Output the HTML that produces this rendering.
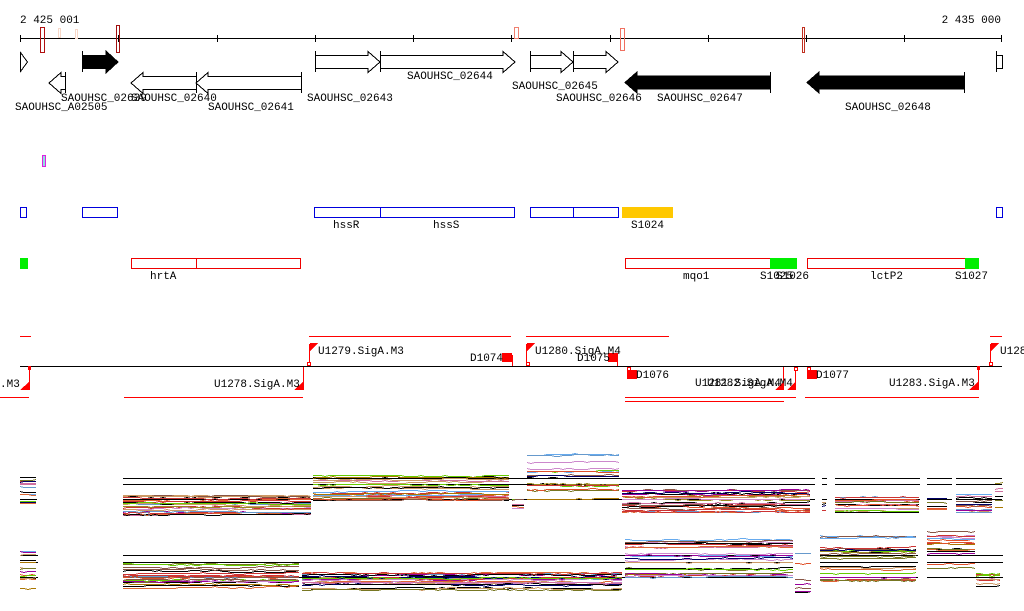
<!DOCTYPE html>
<html><head><meta charset="utf-8"><style>
html,body{margin:0;padding:0;background:#fff;width:1024px;height:611px;overflow:hidden}
svg{display:block}
text{font-family:"Liberation Mono","DejaVu Sans Mono",monospace;font-size:11px;fill:#000}
</style></head><body>
<svg id="s" width="1024" height="611" viewBox="0 0 1024 611" shape-rendering="crispEdges">
<text x="20" y="23">2 425 001</text>
<text x="1001" y="23" text-anchor="end">2 435 000</text>
<line x1="20" y1="38.5" x2="1002" y2="38.5" stroke="#000"/>
<g stroke="#000">
<line x1="20.5" y1="35" x2="20.5" y2="42"/><line x1="118.5" y1="35" x2="118.5" y2="42"/><line x1="217.5" y1="35" x2="217.5" y2="42"/><line x1="315.5" y1="35" x2="315.5" y2="42"/><line x1="413.5" y1="35" x2="413.5" y2="42"/><line x1="511.5" y1="35" x2="511.5" y2="42"/><line x1="610.5" y1="35" x2="610.5" y2="42"/><line x1="708.5" y1="35" x2="708.5" y2="42"/><line x1="806.5" y1="35" x2="806.5" y2="42"/><line x1="904.5" y1="35" x2="904.5" y2="42"/><line x1="1001.5" y1="35" x2="1001.5" y2="42"/>
</g>
<g fill="none">
<rect x="40.5" y="27.5" width="4" height="25" stroke="#b01010"/>
<rect x="58.5" y="28.5" width="2" height="9" stroke="#f8d8c8"/>
<rect x="75.5" y="29.5" width="2" height="9" stroke="#f8d8c8"/>
<rect x="116.5" y="25.5" width="3" height="27" stroke="#a01010"/>
<rect x="514.5" y="27.5" width="4" height="11" stroke="#f08070"/>
<rect x="620.5" y="28.5" width="4" height="22" stroke="#f07060"/>
<rect x="802.5" y="27.5" width="2" height="25" stroke="#c03020"/>
</g>
<g stroke="#000" fill="#fff">
<polygon points="20.5,52.5 27.5,62 20.5,71.5"/>
<polygon points="315.5,55.5 368,55.5 368,51.5 380,62 368,72.5 368,68.5 315.5,68.5"/>
<line x1="315.5" y1="51" x2="315.5" y2="72"/>
<polygon points="380.5,55.5 503,55.5 503,51.5 515,62 503,72.5 503,68.5 380.5,68.5"/>
<line x1="380.5" y1="51" x2="380.5" y2="72"/>
<polygon points="530.5,55.5 561,55.5 561,51.5 573,62 561,72.5 561,68.5 530.5,68.5"/>
<line x1="530.5" y1="51" x2="530.5" y2="72"/>
<polygon points="573.5,55.5 606,55.5 606,51.5 618,62 606,72.5 606,68.5 573.5,68.5"/>
<line x1="573.5" y1="51" x2="573.5" y2="72"/>
<polygon points="65.5,76.5 61,76.5 61,72.5 49,83 61,93.5 61,89.5 65.5,89.5"/>
<line x1="65.5" y1="72" x2="65.5" y2="93"/>
<polygon points="196.5,76.5 143,76.5 143,72.5 131,83 143,93.5 143,89.5 196.5,89.5"/>
<polygon points="301.5,76.5 208,76.5 208,72.5 196,83 208,93.5 208,89.5 301.5,89.5"/>
<line x1="196.5" y1="72" x2="196.5" y2="93"/>
<line x1="301.5" y1="72" x2="301.5" y2="93"/>
<polygon points="996.5,55.5 1002.5,55.5 1002.5,68.5 996.5,68.5"/>
<line x1="996.5" y1="51" x2="996.5" y2="72"/>
</g>
<g fill="#000" stroke="#000">
<polygon points="82.5,55.5 106,55.5 106,51 118,62 106,73 106,68.5 82.5,68.5"/>
<line x1="82.5" y1="51" x2="82.5" y2="72"/>
<polygon points="770,76 637,76 637,72 625,82.5 637,93 637,89 770,89"/>
<line x1="770.5" y1="72" x2="770.5" y2="93"/>
<polygon points="964,76 819,76 819,72 807,82.5 819,93 819,89 964,89"/>
<line x1="964.5" y1="72" x2="964.5" y2="93"/>
</g>
<text x="15" y="110">SAOUHSC_A02505</text>
<text x="61" y="101">SAOUHSC_02639</text>
<text x="131" y="101">SAOUHSC_02640</text>
<text x="208" y="110">SAOUHSC_02641</text>
<text x="307" y="101">SAOUHSC_02643</text>
<text x="407" y="79">SAOUHSC_02644</text>
<text x="512" y="89">SAOUHSC_02645</text>
<text x="556" y="101">SAOUHSC_02646</text>
<text x="657" y="101">SAOUHSC_02647</text>
<text x="845" y="110">SAOUHSC_02648</text>
<rect x="42.5" y="155.5" width="3" height="11" fill="none" stroke="#e020e0"/>
<line x1="44" y1="156" x2="44" y2="166" stroke="#20c0c0"/>
<g fill="#fff" stroke="#0000dd">
<rect x="20.5" y="207.5" width="6" height="10"/>
<rect x="82.5" y="207.5" width="35" height="10"/>
<rect x="314.5" y="207.5" width="66" height="10"/>
<rect x="380.5" y="207.5" width="134" height="10"/>
<rect x="530.5" y="207.5" width="43" height="10"/>
<rect x="573.5" y="207.5" width="45" height="10"/>
<rect x="996.5" y="207.5" width="6" height="10"/>
</g>
<rect x="622" y="207" width="51" height="11" fill="#ffc800"/>
<text x="333" y="228">hssR</text><text x="433" y="228">hssS</text><text x="631" y="228">S1024</text>
<rect x="20" y="258" width="8" height="11" fill="#00ee00"/>
<g fill="#fff" stroke="#ee0000">
<rect x="131.5" y="258.5" width="65" height="10"/>
<rect x="196.5" y="258.5" width="104" height="10"/>
<rect x="625.5" y="258.5" width="170" height="10"/>
<rect x="807.5" y="258.5" width="171" height="10"/>
</g>
<rect x="770" y="258" width="27" height="11" fill="#00ee00"/>
<rect x="965" y="258" width="14" height="11" fill="#00ee00"/>
<text x="150" y="279">hrtA</text><text x="683" y="279">mqo1</text><text x="760" y="279">S1025</text><text x="776" y="279">S1026</text><text x="870" y="279">lctP2</text><text x="955" y="279">S1027</text>
<line x1="20" y1="366.5" x2="1002" y2="366.5" stroke="#000"/>
<g stroke="#ff0000">
<line x1="20" y1="336.5" x2="31" y2="336.5"/><line x1="309" y1="336.5" x2="511" y2="336.5"/><line x1="526" y1="336.5" x2="669" y2="336.5"/><line x1="990" y1="336.5" x2="1002" y2="336.5"/>
<line x1="0" y1="397.5" x2="29" y2="397.5"/><line x1="124" y1="397.5" x2="303" y2="397.5"/><line x1="625" y1="397.5" x2="796" y2="397.5"/><line x1="625" y1="401.5" x2="784" y2="401.5"/><line x1="805" y1="397.5" x2="979" y2="397.5"/>
<line x1="29.5" y1="367" x2="29.5" y2="390"/><line x1="303.5" y1="367" x2="303.5" y2="390"/><line x1="309.5" y1="344" x2="309.5" y2="366"/><line x1="512.5" y1="355" x2="512.5" y2="366"/><line x1="526.5" y1="344" x2="526.5" y2="366"/><line x1="617.5" y1="355" x2="617.5" y2="366"/><line x1="783.5" y1="367" x2="783.5" y2="390"/><line x1="795.5" y1="367" x2="795.5" y2="390"/><line x1="978.5" y1="367" x2="978.5" y2="390"/><line x1="990.5" y1="344" x2="990.5" y2="366"/>
</g>
<g fill="#ff0000">
<polygon points="20,390 29,382 29,390"/><polygon points="294,390 303,382 303,390"/>
<polygon points="310,343 318,343 310,351"/><polygon points="527,343 535,343 527,351"/><polygon points="991,343 999,343 991,351"/>
<polygon points="775,390 783,382 783,390"/><polygon points="787,390 795,382 795,390"/><polygon points="969,390 978,382 978,390"/>
<rect x="502" y="353" width="10" height="9"/><rect x="608" y="353" width="10" height="9"/>
<rect x="627" y="370" width="10" height="9"/><rect x="807" y="370" width="10" height="9"/>
<rect x="28" y="366" width="3" height="4"/><rect x="977" y="366" width="3" height="4"/>
</g>
<g fill="#fff" stroke="#ff0000">
<rect x="307.5" y="362.5" width="3" height="3"/><rect x="526.5" y="362.5" width="3" height="3"/><rect x="627.5" y="367.5" width="3" height="3"/><rect x="794.5" y="367.5" width="3" height="3"/><rect x="807.5" y="367.5" width="3" height="3"/><rect x="989.5" y="362.5" width="3" height="3"/>
</g>
<text x="0" y="387">.M3</text><text x="214" y="387">U1278.SigA.M3</text>
<text x="318" y="354">U1279.SigA.M3</text><text x="470" y="361">D1074</text>
<text x="535" y="354">U1280.SigA.M4</text><text x="577" y="361">D1075</text>
<text x="636" y="378">D1076</text><text x="695" y="386">U1281.SigA.M4</text><text x="707" y="386">U1282.SigA.M4</text>
<text x="816" y="378">D1077</text><text x="889" y="386">U1283.SigA.M3</text><text x="1000" y="354">U128</text>
<g id="plots"></g>
</svg>
<script>
(function(){
var seed=7;function r(){seed=(seed*16807)%2147483647;return seed/2147483647;}
var cols=["#e0502a","#9a8a20","#66cc00","#990099","#66aaee","#885544","#cc88cc","#000066","#cc9966","#dd6633","#cc3333","#aa7700","#6699cc","#d070a0","#777722"];
var g=document.getElementById("plots"),h="";
function band(x0,x1,yt,yb,n){
 for(var i=0;i<n;i++){var base=yt+(yb-yt)*r(),y=base,p=[];
  for(var x=x0;x<=x1;x+=4){y+=(r()-0.5)*0.9+(base-y)*0.08; if(y<yt)y=yt; if(y>yb)y=yb; p.push(x+","+(Math.round(y)+0.5));}
  h+='<polyline fill="none" stroke-width="1" stroke="'+(i%10==0?"#000":cols[Math.floor(r()*cols.length)])+'" points="'+p.join(" ")+'"/>';}
}
function hl(y,segs){segs.forEach(function(s){h+='<line x1="'+s[0]+'" x2="'+s[1]+'" y1="'+(y+0.5)+'" y2="'+(y+0.5)+'" stroke="#000" stroke-width="1"/>';});}
var S1=[[123,815],[822,827],[835,920],[927,952],[956,1002]];
hl(478,S1);hl(484,S1);hl(499,S1.concat([[20,37]]));
band(20,37,477,505,14);band(112,114,490,510,3);
band(123,312,495,515,22);band(313,512,473,500,22);band(512,527,496,508,6);
band(527,622,452,500,18);band(622,813,488,512,22);band(822,827,498,510,4);band(835,919,496,512,14);band(927,950,497,512,6);band(956,995,493,512,12);band(995,1003,468,508,6);
var S2=[[20,38],[123,793],[820,918],[927,1003]];
hl(555,S2);hl(562,S2);hl(577,S2);
band(20,38,550,592,14);band(112,114,575,590,3);
band(123,302,562,588,22);band(302,625,572,590,22);band(625,793,535,580,24);band(795,813,550,595,7);
band(820,918,527,583,22);band(927,976,525,576,16);band(976,1003,570,586,10);
g.innerHTML=h;
})();
</script>
</body></html>
